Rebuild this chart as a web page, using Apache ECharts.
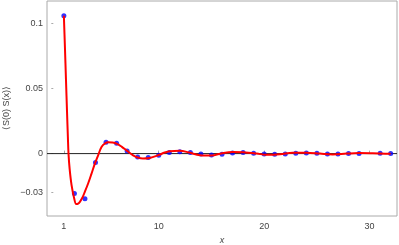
<!DOCTYPE html>
<html><head><meta charset="utf-8">
<script src="https://cdn.jsdelivr.net/npm/echarts@6/dist/echarts.min.js"></script>
<style>html,body{margin:0;padding:0;background:#fff}#c{width:399px;height:245px}</style>
</head><body><div id="c"></div>
<script>
const pointX = [1,2,3,4,5,6,7,8,9,10,11,12,13,14,15,16,17,18,19,20,21,22,23,24,25,26,27,28,29,31,32];
const pointY = [0.1061,-0.0306,-0.0348,-0.0069,0.0087,0.0079,0.0020,-0.0026,-0.0030,-0.0013,0.0008,0.0015,0.0008,-0.0003,-0.0011,-0.0005,0.0005,0.0008,0.0002,-0.0003,-0.0005,-0.0003,0.0002,0.0005,0.0002,-0.0003,-0.0003,0,0,0.0002,0];
const curveX = [1.0,1.1,1.2,1.3,1.38,1.44,1.55,1.73,1.98,2.17,2.35,2.52,2.75,2.99,3.3,3.6,3.94,4.25,4.57,4.89,5.2,5.6,6.0,6.5,6.94,7.57,8.0,8.5,9.15,9.94,10.57,11.05,12.0,12.9,13.9,15.0,16.0,17.0,18.0,19.3,20.2,21.5,22.7,24.0,25.3,26.5,27.8,29.0,30.3,31.9,32.0];
const curveY = [0.106,0.082,0.057,0.032,0.013,0,-0.012,-0.0243,-0.0345,-0.0388,-0.0385,-0.0371,-0.034,-0.0294,-0.023,-0.016,-0.0077,-0.0013,0.0051,0.0078,0.0087,0.0085,0.0077,0.0052,0.0025,-0.0013,-0.003,-0.0038,-0.0034,-0.0013,0.0008,0.0018,0.0022,0.0008,-0.0012,-0.0015,0.0003,0.0013,0.001,0,-0.0009,-0.0005,0.0006,0.0007,0,-0.0006,0,0.0004,0.0002,-0.0002,-0.0002];
const xTicks = [1,10,20,30];
const yTicks = [-0.03,0,0.05,0.1];
const yLabelText = {'-0.03':'\u22120.03','0':'0','0.05':'0.05','0.1':'0.1'};

const chart = echarts.init(document.getElementById('c'), null, {renderer:'canvas'});
const lab = {fontFamily:'Liberation Sans, Arial, sans-serif', fontSize:9, color:'#444'};
chart.setOption({
  animation:false,
  grid:{left:47,right:2,top:1,bottom:29,show:true,borderColor:'#aaa',borderWidth:1,backgroundColor:'transparent'},
  xAxis:{type:'value',min:-0.6,max:32.6,
    axisLine:{show:false},splitLine:{show:false},
    axisTick:{show:true,inside:true,length:3,lineStyle:{color:'#aaa'},customValues:xTicks},
    axisLabel:Object.assign({customValues:xTicks,margin:6,formatter:v=>String(v)},lab)},
  yAxis:{type:'value',min:-0.048,max:0.1174,
    axisLine:{show:false},splitLine:{show:false},
    axisTick:{show:true,inside:false,length:2,lineStyle:{color:'#aaa'},customValues:yTicks},
    axisLabel:Object.assign({customValues:yTicks,margin:4,formatter:v=>{const k=String(Math.round(v*1000)/1000);return yLabelText[k]!==undefined?yLabelText[k]:k;}},lab)},
  graphic:[
    {type:'text',x:7,y:108,rotation:Math.PI/2,style:{text:'\u27E8S(0) S(x)\u27E9',fontFamily:'Liberation Sans, Arial, sans-serif',fontSize:9,fill:'#444',align:'center',verticalAlign:'middle'}},
    {type:'text',x:222,y:240,style:{text:'x',fontFamily:'Liberation Sans, Arial, sans-serif',fontStyle:'italic',fontSize:9,fill:'#444',align:'center',verticalAlign:'middle'}}
  ],
  series:[
    {type:'line',data:[[-0.6,0],[32.6,0]],symbol:'none',lineStyle:{color:'#222',width:1},z:1,silent:true},
    {type:'scatter',data:pointX.map((x,i)=>[x,pointY[i]]),symbol:'circle',symbolSize:5,itemStyle:{color:'#0000ff'},z:2},
    {type:'line',data:curveX.map((x,i)=>[x,curveY[i]]),symbol:'none',smooth:0.35,lineStyle:{color:'#ff0000',width:2},z:3}
  ]
});
</script></body></html>
